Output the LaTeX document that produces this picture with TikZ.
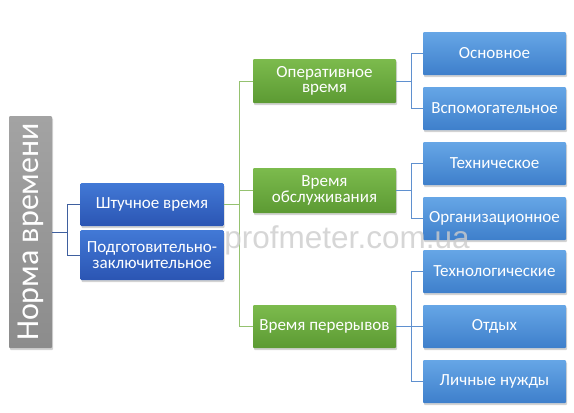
\documentclass[tikz,border=0pt]{standalone}
\usepackage{fontspec}
\setmainfont{Carlito}
\newfontfamily\markfont{Liberation Sans}
\usetikzlibrary{shapes, positioning, shadows}

\definecolor{normTop}{HTML}{A3A3A3}
\definecolor{normBot}{HTML}{8C8C8C}
\definecolor{partTop}{HTML}{4279D6}
\definecolor{partBot}{HTML}{2B55B3}
\definecolor{opTop}{HTML}{7CBB4D}
\definecolor{opBot}{HTML}{5C9A33}
\definecolor{leafTop}{HTML}{66A6E6}
\definecolor{leafBot}{HTML}{3E7FCB}
\definecolor{partLine}{HTML}{3F609F}
\definecolor{opLine}{HTML}{95C270}
\definecolor{leafLine}{HTML}{5F90CF}

\begin{document}
\begin{tikzpicture} [
    x = 1pt, y = -1pt,
    node distance = 55pt,
    on grid,
    box/.style = {rectangle, rounded corners = 1pt,
        minimum width = 143pt, minimum height = 43pt,
        inner xsep = 0pt, text = white, align = center,
        font = \fontsize{17}{18.5}\selectfont,
        drop shadow = {opacity = 0.35, shadow xshift = 1pt, shadow yshift = -2pt}},
    normbox/.style = {box, top color = normTop, bottom color = normBot},
    partbox/.style = {box, top color = partTop, bottom color = partBot},
    opbox/.style = {box, top color = opTop, bottom color = opBot},
    leafbox/.style = {box, top color = leafTop, bottom color = leafBot}]

\useasboundingbox (0,0) rectangle (574,413);

% Root
\node (norm) [normbox,
    minimum width = 43pt, minimum height = 232pt] at (30.5,232) {};
\node [rotate = 90, text = white,
    font = \fontsize{32}{34}\selectfont] at (norm.center) {Норма времени};

% Parts of the norm
\node (sht) [partbox] at (152,204.5) {Штучное время};
\node (pz) [partbox,
    minimum height = 50pt,
    below = 50.5pt of sht] {Подготовительно-\\[-3pt]заключительное};

% Parts of the piece time
\node (op) [opbox,
    minimum height = 44pt] at (324.5,81) {Оперативное\\[-3pt]время};
\node (obs) [opbox,
    minimum height = 45pt,
    below = 109.5pt of op] {Время\\[-3pt]обслуживания};
\node (per) [opbox,
    below = 136pt of obs] {Время перерывов};

% Leaves
\node (osn) [leafbox] at (494.5,53.5) {Основное};
\node (vsp) [leafbox, below = of osn] {Вспомогательное};
\node (tech) [leafbox, below = of vsp] {Техническое};
\node (org) [leafbox, below = of tech] {Организационное};
\node (tlg) [leafbox, below = 53pt of org] {Технологические};
\node (otd) [leafbox, below = of tlg] {Отдых};
\node (lich) [leafbox, below = of otd] {Личные нужды};

% Connectors
\draw [partLine] (norm.east) -- ++(15,0) |- (sht.west);
\draw [partLine] (norm.east) -- ++(15,0) |- (pz.west);

\draw [opLine] (sht.east) -- ++(15,0) |- (op.west);
\draw [opLine] (sht.east) -- ++(15,0) |- (obs.west);
\draw [opLine] (sht.east) -- ++(15,0) |- (per.west);

\draw [leafLine] (op.east) -- ++(15,0) |- (osn.west);
\draw [leafLine] (op.east) -- ++(15,0) |- (vsp.west);
\draw [leafLine] (obs.east) -- ++(15,0) |- (tech.west);
\draw [leafLine] (obs.east) -- ++(15,0) |- (org.west);
\draw [leafLine] (per.east) -- ++(15,0) |- (tlg.west);
\draw [leafLine] (per.east) -- ++(15,0) |- (otd.west);
\draw [leafLine] (per.east) -- ++(15,0) |- (lich.west);

% Watermark
\node (mark) [text = gray!40, opacity = 0.8, inner sep = 0pt,
    font = \markfont\fontsize{31.5}{33}\selectfont] at (347,240) {profmeter.com.ua};
\end{tikzpicture}
\end{document}
